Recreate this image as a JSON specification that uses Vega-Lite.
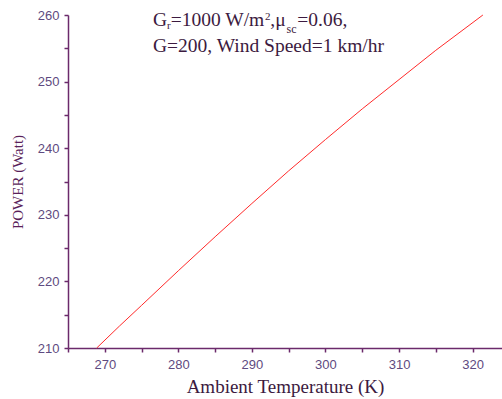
{
  "$schema": "https://vega.github.io/schema/vega-lite/v6.json",
  "width": 434,
  "height": 333,
  "autosize": {"type": "none"},
  "padding": {"left": 68, "top": 15, "right": 0, "bottom": 51},
  "background": "white",
  "config": {"view": {"stroke": null}},
  "resolve": {"axis": {"x": "independent", "y": "independent"}},
  "datasets": {
    "curve": [
      {"T": 268.9, "P": 210.0},
      {"T": 272.0, "P": 213.3},
      {"T": 275.0, "P": 216.4},
      {"T": 280.0, "P": 221.6},
      {"T": 285.0, "P": 226.7},
      {"T": 290.0, "P": 231.7},
      {"T": 295.0, "P": 236.6},
      {"T": 300.0, "P": 241.3},
      {"T": 305.0, "P": 245.9},
      {"T": 310.0, "P": 250.3},
      {"T": 315.0, "P": 254.7},
      {"T": 321.4, "P": 260.0}
    ],
    "one": [{"k": 1}]
  },
  "layer": [
    {
      "data": {"name": "curve"},
      "mark": {"type": "line", "color": "#ff2a2a", "strokeWidth": 1, "clip": false},
      "encoding": {
        "x": {
          "field": "T", "type": "quantitative",
          "scale": {"domain": [265, 324], "nice": false, "zero": false},
          "axis": {
            "title": "Ambient Temperature (K)",
            "values": [265, 270, 275, 280, 285, 290, 295, 300, 305, 310, 315, 320],
            "labelOpacity": {"condition": {"test": "datum.value % 10 != 0", "value": 0}, "value": 1},
            "labelOverlap": false,
            "labelBound": false,
            "labelFlush": false,
            "grid": false,
            "domainColor": "#6b2a6b", "domainWidth": 1.5,
            "tickColor": "#6b2a6b", "tickSize": 4, "tickWidth": 1.5, "tickOpacity": 1,
            "labelFont": "Liberation Sans", "labelFontSize": 13, "labelColor": "#5e4a80",
            "labelPadding": 6,
            "titleFont": "Liberation Serif", "titleFontSize": 19, "titleFontWeight": "normal",
            "titleColor": "#3c1a40", "titlePadding": 6
          }
        },
        "y": {
          "field": "P", "type": "quantitative",
          "scale": {"domain": [210, 260], "nice": false, "zero": false},
          "axis": {
            "title": "POWER (Watt)",
            "values": [210, 215, 220, 225, 230, 235, 240, 245, 250, 255, 260],
            "labelExpr": "datum.value % 10 == 0 ? datum.label : ''",
            "labelOverlap": false,
            "grid": false,
            "domainColor": "#6b2a6b", "domainWidth": 1.5,
            "tickColor": "#6b2a6b", "tickSize": 4, "tickWidth": 1.5,
            "labelFont": "Liberation Sans", "labelFontSize": 13, "labelColor": "#5e4a80",
            "labelPadding": 5,
            "titleFont": "Liberation Serif", "titleFontSize": 15, "titleFontWeight": "normal",
            "titleColor": "#5a1f5a", "titlePadding": 12
          }
        }
      }
    },
    {
      "data": {"name": "one"},
      "mark": {"type": "text", "text": "G", "font": "Liberation Serif", "fontSize": 19.5, "color": "#3c1a40", "align": "left", "baseline": "alphabetic"},
      "encoding": {"x": {"datum": 276.55, "type": "quantitative", "axis": null}, "y": {"datum": 258.35, "type": "quantitative", "axis": null}}
    },
    {
      "data": {"name": "one"},
      "mark": {"type": "text", "text": "r", "font": "Liberation Serif", "fontSize": 11, "color": "#3c1a40", "align": "left", "baseline": "alphabetic"},
      "encoding": {"x": {"datum": 278.47, "type": "quantitative", "axis": null}, "y": {"datum": 257.9, "type": "quantitative", "axis": null}}
    },
    {
      "data": {"name": "one"},
      "mark": {"type": "text", "text": "=1000 W/m", "font": "Liberation Serif", "fontSize": 19.5, "color": "#3c1a40", "align": "left", "baseline": "alphabetic"},
      "encoding": {"x": {"datum": 278.97, "type": "quantitative", "axis": null}, "y": {"datum": 258.35, "type": "quantitative", "axis": null}}
    },
    {
      "data": {"name": "one"},
      "mark": {"type": "text", "text": "2", "font": "Liberation Serif", "fontSize": 11, "color": "#3c1a40", "align": "left", "baseline": "alphabetic"},
      "encoding": {"x": {"datum": 291.77, "type": "quantitative", "axis": null}, "y": {"datum": 259.3, "type": "quantitative", "axis": null}}
    },
    {
      "data": {"name": "one"},
      "mark": {"type": "text", "text": ",μ", "font": "Liberation Serif", "fontSize": 19.5, "color": "#3c1a40", "align": "left", "baseline": "alphabetic"},
      "encoding": {"x": {"datum": 292.51, "type": "quantitative", "axis": null}, "y": {"datum": 258.35, "type": "quantitative", "axis": null}}
    },
    {
      "data": {"name": "one"},
      "mark": {"type": "text", "text": "sc", "font": "Liberation Serif", "fontSize": 12, "color": "#3c1a40", "align": "left", "baseline": "alphabetic"},
      "encoding": {"x": {"datum": 294.7, "type": "quantitative", "axis": null}, "y": {"datum": 257.37, "type": "quantitative", "axis": null}}
    },
    {
      "data": {"name": "one"},
      "mark": {"type": "text", "text": "=0.06,", "font": "Liberation Serif", "fontSize": 19.5, "color": "#3c1a40", "align": "left", "baseline": "alphabetic"},
      "encoding": {"x": {"datum": 296.17, "type": "quantitative", "axis": null}, "y": {"datum": 258.35, "type": "quantitative", "axis": null}}
    },
    {
      "data": {"name": "one"},
      "mark": {"type": "text", "text": "G=200, Wind Speed=1 km/hr", "font": "Liberation Serif", "fontSize": 19.5, "color": "#3c1a40", "align": "left", "baseline": "alphabetic"},
      "encoding": {"x": {"datum": 276.55, "type": "quantitative", "axis": null}, "y": {"datum": 254.44, "type": "quantitative", "axis": null}}
    }
  ]
}
